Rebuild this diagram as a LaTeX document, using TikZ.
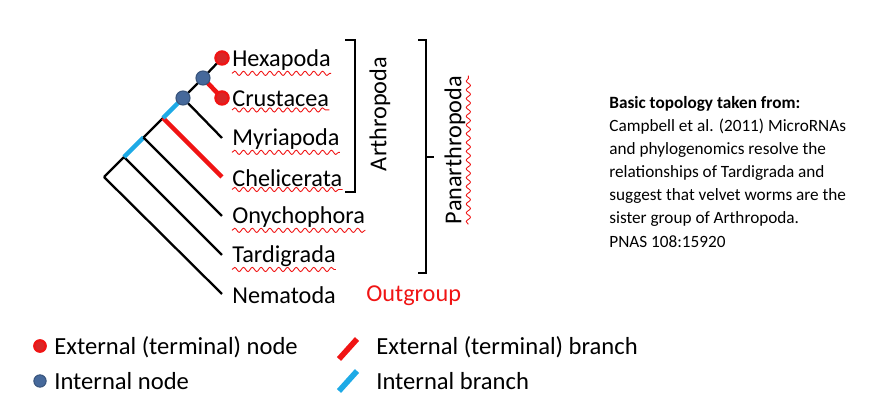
\documentclass[tikz,border=0pt]{standalone}
\usepackage{fontspec}
\setmainfont{Carlito}
\usetikzlibrary{decorations.pathmorphing}
\definecolor{tred}{RGB}{240,20,20}
\definecolor{tblue}{RGB}{30,170,230}
\definecolor{ndblue}{RGB}{70,105,155}
\begin{document}
\begin{tikzpicture}[x=0.02cm,y=-0.02cm,
  br/.style={line width=1.3pt,black},
  ext/.style={line width=2.6pt,tred},
  int/.style={line width=2.6pt,tblue},
  leaf/.style={anchor=west,font=\fontsize{13.8}{15}\selectfont,inner sep=0pt},
  txt/.style={anchor=west,font=\fontsize{9.8}{11}\selectfont,inner sep=0pt},
  leg/.style={anchor=west,font=\fontsize{14}{15}\selectfont,inner sep=0pt},
  edot/.style={circle,fill=red!70!gray,draw=tred,line width=1.3pt,minimum size=7.5pt,inner sep=0pt},
  idot/.style={circle,fill=ndblue,draw=ndblue!80!black,line width=0.6pt,minimum size=8pt,inner sep=0pt},
  spell/.style={draw=tred,line width=0.5pt,decorate,decoration={snake,amplitude=1.2,segment length=5}},
  brace/.style={line width=1.3pt,black}]
\useasboundingbox (0,0) rectangle (894,408);
% tree points
\coordinate (r) at (104,177);
\coordinate (nt) at (124,157);
\coordinate (no) at (143.5,137.5);
\coordinate (nc) at (163,118);
\coordinate (nm) at (183,98);
\coordinate (nx) at (203,78);
\coordinate (tH) at (222,58);
\coordinate (tC) at (222,98);
\coordinate (tM) at (222,138);
\coordinate (tCh) at (222,177);
\coordinate (tO) at (222,216);
\coordinate (tT) at (222,255);
\coordinate (tN) at (222,294);
% branches
\draw[br] (r) -- (tN);
\draw[br] (r) -- (nt);
\draw[br] (nt) -- (tT);
\draw[int] (nt) -- (no);
\draw[br] (no) -- (tO);
\draw[br] (no) -- (nc);
\draw[ext] (nc) -- (tCh);
\draw[int] (nc) -- (nm);
\draw[br] (nm) -- (tM);
\draw[br] (nm) -- (nx);
\draw[ext] (nx) -- (tC);
\draw[br] (nx) -- (tH);
\node[idot] (dm) at (nm) {};
\node[idot] (dx) at (nx) {};
\node[edot] (dH) at (tH) {};
\node[edot] (dC) at (tC) {};
% leaf labels
\node[leaf] (lH) at (232,60) {Hexapoda};
\node[leaf] (lC) at (232,99) {Crustacea};
\node[leaf] (lM) at (232,139) {Myriapoda};
\node[leaf] (lCh) at (232,178) {Chelicerata};
\node[leaf] (lO) at (232,217) {Onychophora};
\node[leaf] (lT) at (232,256) {Tardigrada};
\node[leaf] (lN) at (232,295) {Nematoda};
\node[leaf,text=tred] (og) at (366,296) {Outgroup};
\foreach \n in {lH,lC,lM,lCh,lO,lT}
  \draw[spell] ([yshift=-1.5pt]\n.south west) -- ([yshift=-1.5pt]\n.south east);
% brackets
\draw[brace] (345,40) -- (355,40) -- (355,192) -- (345,192);
\node[leaf,anchor=center,rotate=90] (arth) at (380,114) {Arthropoda};
\draw[brace] (418,40) -- (426,40) -- (426,273) -- (418,273);
\draw[brace] (426,157) -- (434,157);
\node[leaf,anchor=center,rotate=90] (pan) at (455,150) {Panarthropoda};
\draw[spell] ([xshift=1.5pt]pan.south west) -- ([xshift=1.5pt]pan.south east);
% source text
\node[txt,font=\fontsize{9.8}{11}\bfseries] (s0) at (609,104) {Basic topology taken from:};
\node[txt] (s1) at (609,127) {Campbell et al. (2011) MicroRNAs};
\node[txt] (s2) at (609,150) {and phylogenomics resolve the};
\node[txt] (s3) at (609,173) {relationships of Tardigrada and};
\node[txt] (s4) at (609,196) {suggest that velvet worms are the};
\node[txt] (s5) at (609,219) {sister group of Arthropoda.};
\node[txt] (s6) at (609,242) {PNAS 108:15920};
% legend
\node[edot,minimum size=6.5pt] (le) at (40,346) {};
\node[leg] (lle) at (54,347) {External (terminal) node};
\node[idot,minimum size=7pt] (li) at (40,381) {};
\node[leg] (lli) at (54,381) {Internal node};
\coordinate (rb1) at (339,359); \coordinate (rb2) at (357,339);
\coordinate (bb1) at (339,391); \coordinate (bb2) at (357,371);
\draw[ext,line width=3.2pt] (rb1) -- (rb2);
\draw[int,line width=3.2pt] (bb1) -- (bb2);
\node[leg] (lre) at (376,347) {External (terminal) branch};
\node[leg] (lri) at (376,381) {Internal branch};
\end{tikzpicture}
\end{document}
